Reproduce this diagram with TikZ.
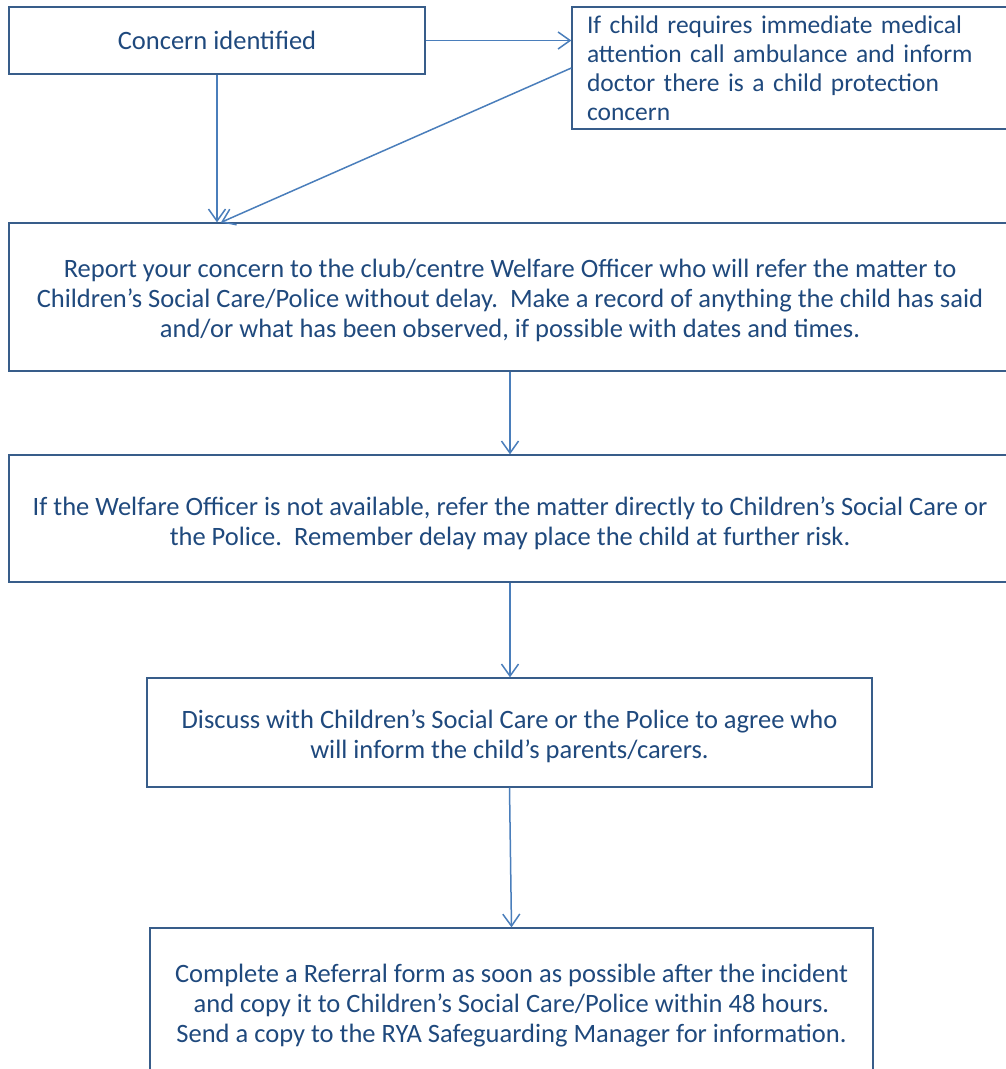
\documentclass[tikz,border=0pt]{standalone}
\usepackage{fontspec}
\setmainfont{Carlito}
\usetikzlibrary{arrows.meta,calc}
\definecolor{boxline}{HTML}{385D8A}
\definecolor{arrowline}{HTML}{4A7EBB}
\definecolor{textblue}{HTML}{1F497D}
\tikzset{
  flowbox/.style={draw=boxline, line width=1.3pt, rectangle, text=textblue, align=center,
    inner sep=0pt, font=\fontsize{26.5}{30}\selectfont},
  flowtext/.style={text=textblue, align=center, inner sep=0pt, font=\fontsize{26.5}{30}\selectfont},
  flowarrow/.style={draw=arrowline, line width=1.5pt, -{Straight Barb[length=12pt,width=17pt,line width=1.5pt]}}
}
\begin{document}
\begin{tikzpicture}[x=1pt,y=1pt]
\useasboundingbox (0,0) rectangle (1005,-1069);
\node[flowbox, minimum width=416pt, minimum height=67pt] (b1) at (217,-40.5) {Concern identified};
\node[flowbox, minimum width=440pt, minimum height=122pt, align=left, text width=410pt, inner xsep=15pt, font=\fontsize{25.5}{29}\selectfont] (b2) at (792,-68) {If child requires immediate medical\\attention call ambulance and inform\\doctor there is a child protection\\concern};
\node[flowbox, minimum width=1002pt, minimum height=148pt] (b3) at (510,-297) {};
\node[flowtext] (t3) at ([yshift=-3pt]b3.center) {Report your concern to the club/centre Welfare Officer who will refer the matter to\\Children’s Social Care/Police without delay.\ \ Make a record of anything the child has said\\and/or what has been observed, if possible with dates and times.};
\node[flowbox, minimum width=1002pt, minimum height=127pt] (b4) at (510,-518.5) {};
\node[flowtext] (t4) at ([yshift=-4.5pt]b4.center) {If the Welfare Officer is not available, refer the matter directly to Children’s Social Care or\\the Police.\ \ Remember delay may place the child at further risk.};
\node[flowbox, minimum width=725pt, minimum height=109pt] (b5) at (509.5,-732.5) {};
\node[flowtext] (t5) at ([yshift=-3.5pt]b5.center) {Discuss with Children’s Social Care or the Police to agree who\\will inform the child’s parents/carers.};
\node[flowbox, minimum width=723pt, minimum height=150pt] (b6) at (511.5,-1003) {};
\node[flowtext] (t6) at ([yshift=-2.5pt]b6.center) {Complete a Referral form as soon as possible after the incident\\and copy it to Children’s Social Care/Police within 48 hours.\\Send a copy to the RYA Safeguarding Manager for information.};
\draw[flowarrow] (b1.east) -- (b1.east -| b2.west);
\draw[flowarrow] (b1.south) -- (b1.south |- b3.north);
\draw[flowarrow] (b2.west) -- ([xshift=4pt]b1.south |- b3.north);
\draw[flowarrow] (b3.south) -- (b4.north);
\draw[flowarrow] (b4.south) -- (b4.south |- b5.north);
\draw[flowarrow] (b5.south) -- (b6.north);
\end{tikzpicture}
\end{document}
